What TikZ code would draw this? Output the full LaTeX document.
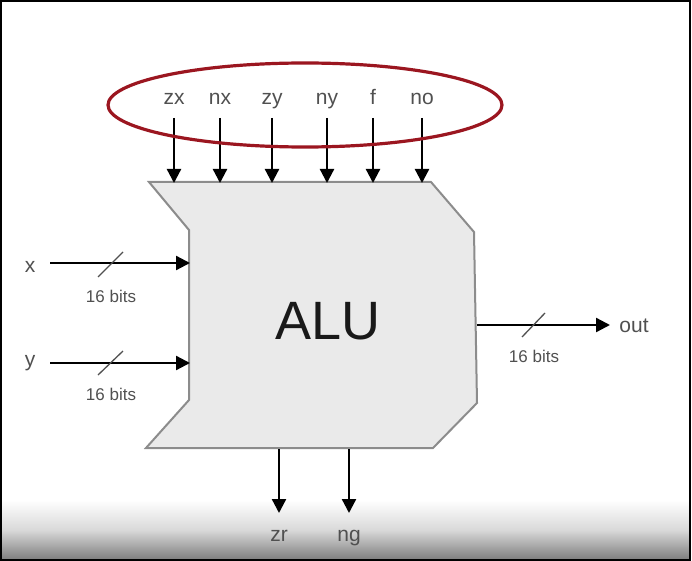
\documentclass[tikz,border=0pt]{standalone}
\usepackage{fontspec}
\setmainfont{Liberation Sans}
\usetikzlibrary{arrows.meta}
\definecolor{ellred}{RGB}{155,22,32}
\definecolor{lbl}{RGB}{80,80,80}
\definecolor{alufill}{RGB}{234,234,234}
\definecolor{aluedge}{RGB}{140,140,140}
\begin{document}
\begin{tikzpicture}[x=1pt,y=-1pt,
  sig/.style={line width=2.3pt, -{Triangle[length=14pt,width=14pt]}},
  lab/.style={text=lbl, font=\fontsize{21}{21}\selectfont, inner sep=0, anchor=base},
  bits/.style={text=lbl, font=\fontsize{17}{17}\selectfont, inner sep=0, anchor=base},
  tick/.style={line width=1.3pt, draw=lbl},
]
\useasboundingbox (0,0) rectangle (692,561);
% bottom video fade
\shade[top color=white, bottom color=black!15] (2,500) rectangle (689,530);
\shade[top color=black!15, bottom color=black!50] (2,530) rectangle (689,559);
\draw[line width=2pt] (1,1) rectangle (690,560);

% ALU body
\draw[fill=alufill, draw=aluedge, line width=2pt]
  (149,182) -- (431,182) -- (474,232) -- (477,403) -- (433,448)
  -- (146,448) -- (189,400) -- (189,230) -- cycle;
\node[font=\fontsize{54}{54}\selectfont, text=black!90, inner sep=0] (alutext) at (328,321) {ALU};

% control inputs
\foreach \n/\t/\px in {zx/zx/174, nx/nx/220, zy/zy/272, ny/ny/327, f/f/373, no/no/422}{
  \node[lab] (\n) at (\px,105) {\t};
  \coordinate (\n s) at (\px,118);
  \coordinate (\n e) at (\px,183);
  \draw[sig] (\n s) -- (\n e);
}

% x input
\node[lab] (xlab) at (30,272) {x};
\coordinate (xs) at (50,263);
\coordinate (xe) at (190,263);
\draw[sig] (xs) -- (xe);
\draw[tick] (98,277) -- (123,252);
\node[bits] (xbits) at (111,302) {16 bits};

% y input
\node[lab] (ylab) at (30,366) {y};
\coordinate (ys) at (50,363);
\coordinate (ye) at (190,363);
\draw[sig] (ys) -- (ye);
\draw[tick] (98,375) -- (123,351);
\node[bits] (ybits) at (111,400) {16 bits};

% output
\coordinate (os) at (477,325);
\coordinate (oe) at (610,325);
\draw[sig] (os) -- (oe);
\draw[tick] (522,337) -- (545,313);
\node[bits] (obits) at (534,362) {16 bits};
\node[lab] (outlab) at (634,332) {out};

% status outputs
\coordinate (zrs) at (279,449);
\coordinate (zre) at (279,513);
\draw[sig] (zrs) -- (zre);
\node[lab] (zr) at (279,541) {zr};
\coordinate (ngs) at (349,449);
\coordinate (nge) at (349,513);
\draw[sig] (ngs) -- (nge);
\node[lab] (ng) at (349,541) {ng};

% highlight ellipse
\draw[ellred, line width=3.2pt] (305,105) ellipse [x radius=197, y radius=42];
\end{tikzpicture}
\end{document}
